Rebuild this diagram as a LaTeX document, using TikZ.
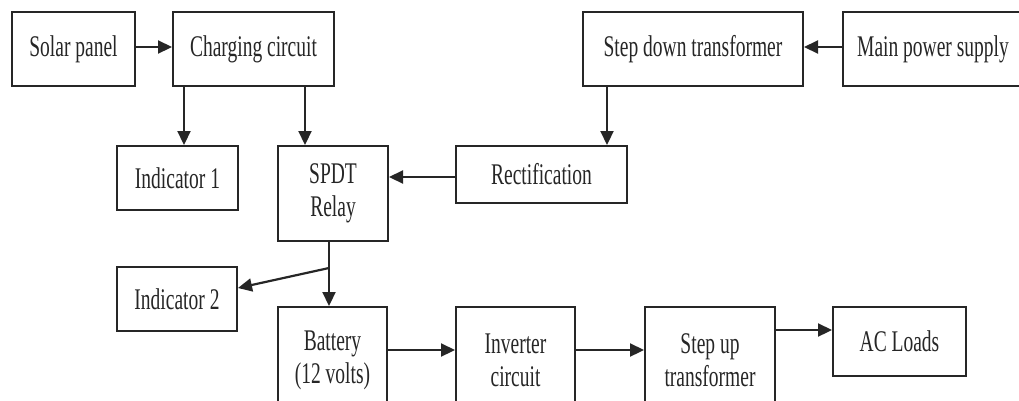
\documentclass[tikz,border=0pt]{standalone}
\usepackage{fontspec}
\setmainfont{Liberation Serif}[FakeStretch=0.65]
\usetikzlibrary{arrows.meta,positioning,calc}
\definecolor{ink}{HTML}{262626}

\begin{document}
\begin{tikzpicture}[x=1pt,y=-1pt,>={Triangle[length=14pt,width=13pt]},box/.style={draw=ink,line width=2pt,align=center,inner sep=0pt,font=\fontsize{30}{33}\selectfont,text=ink},link/.style={->,line width=2.2pt,ink}]
\clip (0,0) rectangle (1019,400);
\node[box,minimum width=123pt,minimum height=74pt] (solar) at (73.5,49) {Solar panel};
\node[box,minimum width=161pt,minimum height=74pt] (charging) at (253.5,49) {Charging circuit};
\node[box,minimum width=220pt,minimum height=74pt] (stepdown) at (693,49) {Step down transformer};
\node[box,minimum width=180pt,minimum height=74pt] (mains) at (933,49) {Main power supply};
\node[box,minimum width=121pt,minimum height=64pt] (ind1) at (177.5,178) {Indicator 1};
\node[box,minimum width=110pt,minimum height=95pt] (relay) at (333,193.5) {SPDT\\Relay};
\node[box,minimum width=171pt,minimum height=57pt] (rect) at (541.5,174.5) {Rectification};
\node[box,minimum width=120pt,minimum height=64pt] (ind2) at (177,299) {Indicator 2};
\node[box,minimum width=109pt,minimum height=106pt] (battery) at (332.5,360) {Battery\\(12 volts)};
\node[box,minimum width=119pt,minimum height=106pt] (inverter) at (515.5,360) {Inverter\\circuit};
\node[box,minimum width=130pt,minimum height=106pt] (stepup) at (710,360) {Step up\\transformer};
\node[box,minimum width=133pt,minimum height=69pt] (acloads) at (899.5,341.5) {AC Loads};
\coordinate (split) at ([xshift=-4pt,yshift=-26pt]relay.south);
\draw[link] ([yshift=2pt]solar.east)--([yshift=2pt]charging.west);
\draw[link] ([yshift=2pt]mains.west)--([yshift=2pt]stepdown.east);
\draw[link] ([xshift=12pt]charging.south west)--([xshift=12pt]charging.south west |- ind1.north);
\draw[link] ([xshift=-30pt]charging.south east)--([xshift=-30pt]charging.south east |- relay.north);
\draw[link] ([xshift=25pt]stepdown.south west)--([xshift=25pt]stepdown.south west |- rect.north);
\draw[link] (rect.west |- 0,177)--(relay.east |- 0,177);
\draw[line width=2.2pt,ink] (relay.south -| split)--(split);
\draw[link] (split)--(battery.north -| split);
\draw[link] (split)--([yshift=11pt]ind2.east);
\draw[link] ([yshift=10pt]battery.east)--([yshift=10pt]inverter.west);
\draw[link] ([yshift=10pt]inverter.east)--([yshift=10pt]stepup.west);
\draw[link] (stepup.east |- 0,330)--(acloads.west |- 0,330);
\end{tikzpicture}
\end{document}
